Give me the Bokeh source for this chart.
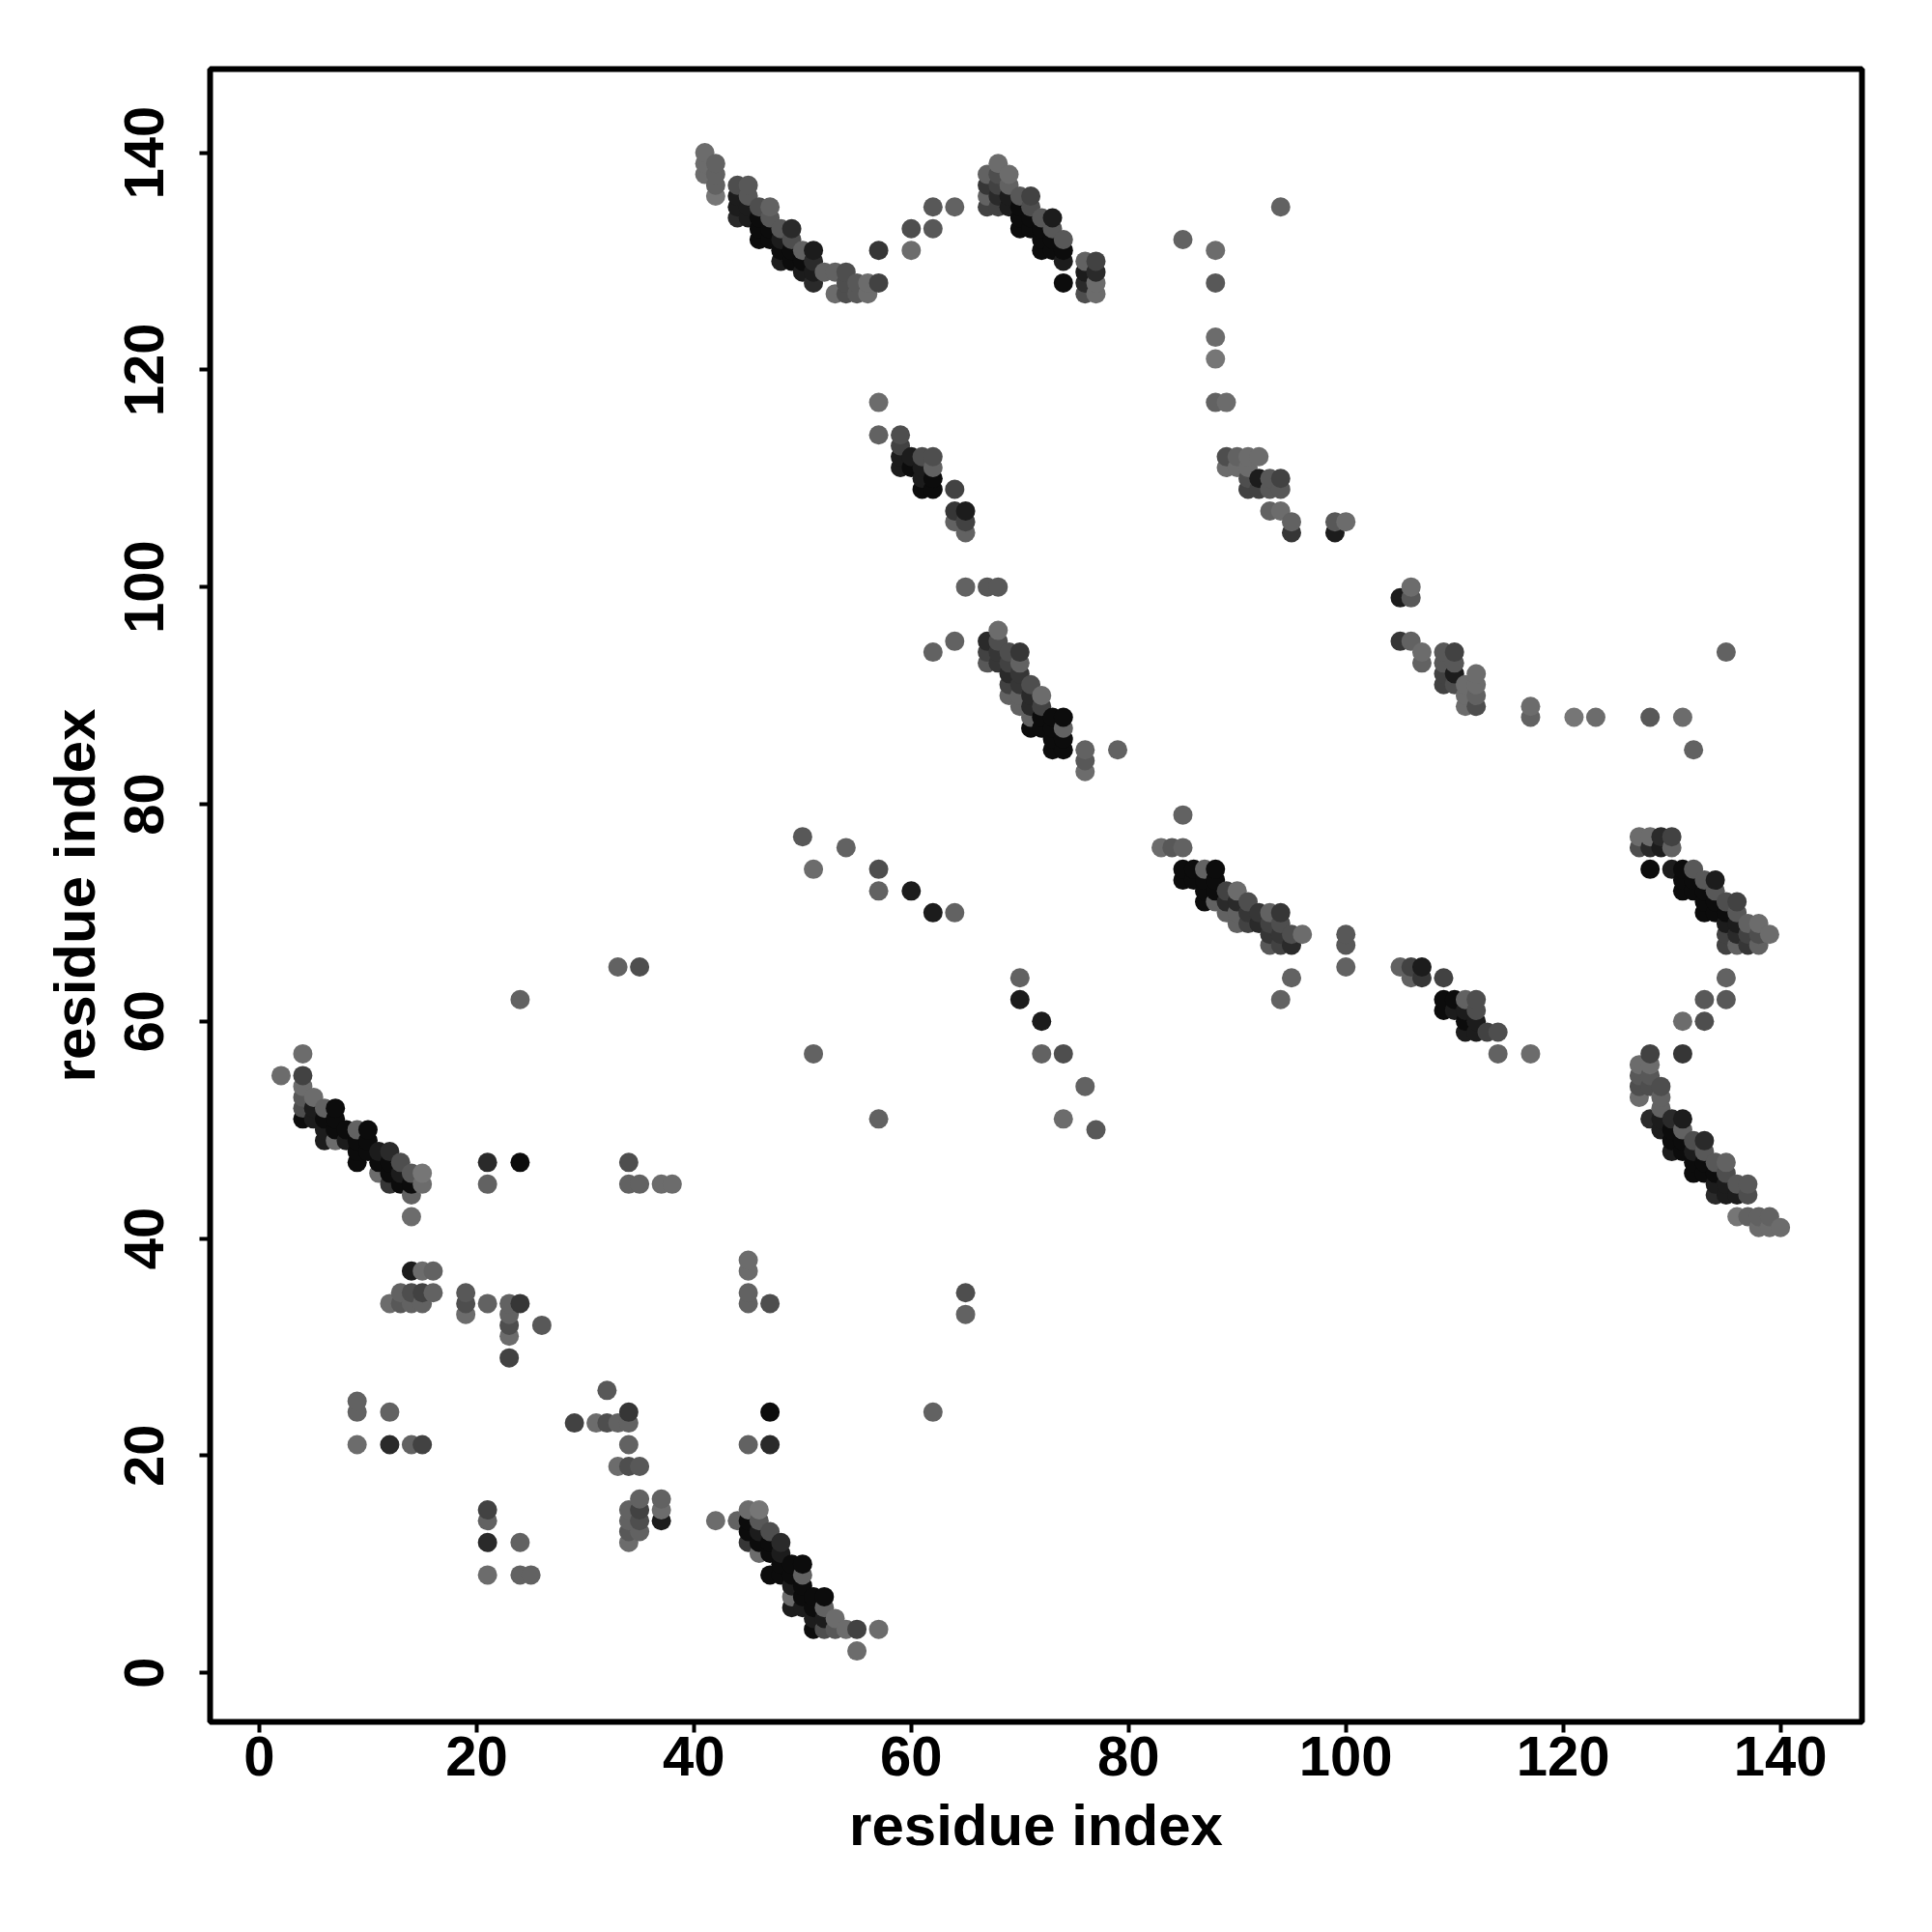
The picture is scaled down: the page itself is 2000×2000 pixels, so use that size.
from bokeh.plotting import figure
from bokeh.models import ColumnDataSource, LinearColorMapper, Range1d, FixedTicker
from bokeh.transform import transform
from bokeh.embed import file_html
from bokeh.resources import INLINE
import pandas as pd

# Contact map: (residue i, residue j, score 1..10). The map is symmetric, i < j here.
cluster_a = [(2,55,2),(4,57,2),(4,55,6),(4,54,2),(4,53,4),(4,52,5),(4,51,10),(5,53,2),(5,52,9),(5,51,9),
 (6,52,3),(6,51,10),(6,50,9),(6,49,9),(7,52,10),(7,51,10),(7,50,10),(7,49,2),(8,50,10),(8,49,9),
 (9,50,3),(9,49,10),(9,48,10),(9,47,10),(10,50,10),(10,49,10),(10,48,10),(11,48,9),(11,47,10),(11,46,2),
 (12,48,8),(12,47,10),(12,46,10),(12,45,7),(13,47,5),(13,46,9),(13,45,10),(14,46,4),(14,45,10),(14,44,3),
 (14,42,2),(15,46,1),(15,45,2)]
cluster_c = [(41,140,2),(41,139,2),(41,138,2),(42,139,3),(42,138,3),(42,137,3),(42,136,1),
 (44,137,5),(44,136,9),(44,135,9),(44,134,8),(45,137,4),(45,136,4),(45,135,9),(45,134,9),
 (46,135,5),(46,134,10),(46,133,10),(46,132,10),(47,135,3),(47,134,4),(47,133,10),(47,132,10),
 (48,133,4),(48,132,9),(48,131,10),(48,130,9),(49,133,8),(49,132,5),(49,131,10),(49,130,10),
 (50,131,3),(50,130,10),(50,129,9),(51,131,9),(51,130,8),(51,129,9),(51,128,8),
 (52,129,3),(53,129,3),(53,127,2),(54,129,5),(54,128,5),(54,127,5),(55,128,4),(55,127,4),
 (56,128,2),(56,127,2),(57,131,7),(57,128,6)]
cluster_d = [(67,138,3),(67,137,7),(67,136,3),(67,135,6),(68,139,2),(68,138,5),(68,137,6),(68,136,8),(68,135,6),
 (69,138,2),(69,137,3),(69,136,9),(69,135,9),(70,136,4),(70,135,10),(70,134,10),(70,133,10),
 (71,136,6),(71,135,5),(71,134,10),(71,133,10),(72,134,4),(72,133,10),(72,132,10),(72,131,10),
 (73,134,9),(73,133,4),(73,132,10),(73,131,10),(74,132,4),(74,131,10),(74,130,9),(74,128,10),
 (76,130,3),(76,129,9),(76,128,8),(76,127,5),(77,130,6),(77,129,8),(77,128,2),(77,127,2)]
cluster_e = [(67,95,8),(68,96,2),(68,95,5),(67,94,6),(67,93,4),(68,94,7),(68,93,7),(69,94,5),(69,93,6),
 (69,92,8),(69,91,6),(69,90,3),(70,94,7),(70,93,3),(70,92,7),(70,91,7),(70,90,3),(70,89,3),
 (71,91,5),(71,90,8),(71,89,8),(71,88,3),(71,87,10),(72,90,2),(72,89,6),(72,88,10),(72,87,10),
 (73,88,10),(73,87,10),(73,86,10),(73,85,10),(74,88,10),(74,87,3),(74,86,10),(74,85,10),
 (76,85,3),(76,84,4),(76,83,2),(79,85,3)]
cluster_f = [(57,117,2),(57,114,3),(59,114,5),(59,113,6),(59,112,9),(59,111,9),(60,112,9),(60,111,10),
 (61,112,5),(61,111,9),(61,110,9),(61,109,10),(62,112,5),(62,111,3),(62,110,10),(62,109,10),
 (64,109,6),(64,107,7),(64,106,3),(65,107,9),(65,106,6),(65,105,3)]
cluster_g = [(89,112,5),(89,111,2),(90,112,3),(90,111,2),(91,112,2),(91,111,2),(91,110,5),(91,109,6),
 (92,112,2),(92,110,9),(92,109,6),(93,110,4),(93,109,4),(94,110,6),(94,109,4),(93,107,3),(94,107,2),
 (95,106,3),(95,105,7),(99,106,4),(100,106,2),(99,105,9)]
sparse_low = [(14,37,9),(15,37,2),(16,37,3),(13,35,3),(14,35,5),(15,35,6),(16,35,3),(12,34,2),(13,34,4),
 (14,34,3),(15,34,3),(19,35,4),(19,34,5),(19,33,2),(21,34,3),(23,34,3),(24,34,7),(23,33,3),(23,32,5),
 (23,31,2),(26,32,4),(23,29,6),(9,25,3),(9,24,3),(9,21,2),(12,24,3),(12,21,8),(14,21,3),(15,21,6),
 (21,47,8),(21,45,3),(24,47,10),(34,47,5),(34,45,3),(35,45,3),(37,45,2),(38,45,2),
 (21,15,6),(21,14,4),(21,12,8),(24,12,3),(21,9,3),(24,9,3),(25,9,5),(34,24,7),(34,23,4),(33,23,3),
 (32,23,5),(31,23,2),(29,23,6),(32,26,3),(34,21,3),(33,19,2),(34,19,5),(35,19,3),
 (34,15,3),(34,14,3),(34,13,4),(35,16,3),(35,15,6),(35,14,6),(37,16,3),(37,15,2),(37,14,9),
 (45,38,2),(45,37,2),(45,35,4),(45,34,4),(47,34,4),(47,24,10),(45,21,2),(47,21,8)]
sparse_low = [(min(a, b), max(a, b), s) for a, b, s in sparse_low]
sparse_mid = [(24,62,3),(33,65,3),(35,65,5),(50,77,4),(51,74,2),(54,76,3),(57,74,5),(57,72,3),(60,72,9),
 (62,70,9),(64,70,3),(51,57,3),(62,94,3),(64,95,3),(65,100,3),(67,100,4),(68,100,4),
 (76,83,2),(76,84,4),(76,85,2)]
sparse_high = [(60,133,5),(60,131,2),(62,135,4),(62,133,4),(64,135,3),(85,132,3),(88,131,2),(88,128,4),
 (88,123,2),(88,121,1),(88,117,3),(89,117,2),(94,135,3),(79,85,2)]
tick_values = [0, 20, 40, 60, 80, 100, 120, 140]

contacts = pd.DataFrame(cluster_a + cluster_c + cluster_d + cluster_e + cluster_f + cluster_g +
                        sparse_low + sparse_mid + sparse_high, columns=["i", "j", "score"])
mirror = contacts.rename(columns={"i": "j", "j": "i"})
full = pd.concat([contacts, mirror]).drop_duplicates(["i", "j"]).sort_values(["i", "j"])

gray_levels = [118, 108, 98, 88, 78, 66, 54, 42, 28, 12]
palette = ["#%02x%02x%02x" % (g, g, g) for g in gray_levels]
mapper = LinearColorMapper(palette=palette, low=0.5, high=10.5)

p = figure(width=1984, height=1990, output_backend="svg", toolbar_location=None,
           x_range=Range1d(-4.53, 147.5), y_range=Range1d(-4.53, 147.7),
           x_axis_label="residue index", y_axis_label="residue index",
           min_border_left=217, min_border_top=71, min_border_right=57, min_border_bottom=208,
           background_fill_color="white", border_fill_color="white")
p.frame_width = 1710
p.frame_height = 1711
p.grid.visible = False
p.outline_line_color = "black"
p.outline_line_width = 6
p.outline_line_alpha = 1

p.scatter("i", "j", source=ColumnDataSource(full), size=20, marker="circle",
          fill_color=transform("score", mapper), line_color=None)

for ax in (p.xaxis[0], p.yaxis[0]):
    ax.ticker = FixedTicker(ticks=tick_values)
    ax.axis_line_color = None
    ax.minor_tick_line_color = None
    ax.major_tick_line_color = "black"
    ax.major_tick_line_width = 4
    ax.major_tick_out = 11
    ax.major_tick_in = 0
    ax.major_label_text_font = "Liberation Sans"
    ax.major_label_text_font_style = "bold"
    ax.major_label_text_font_size = "58px"
    ax.major_label_text_color = "black"
    ax.axis_label_text_font = "Liberation Sans"
    ax.axis_label_text_font_style = "bold"
    ax.axis_label_text_font_size = "60px"
    ax.axis_label_text_color = "black"
p.yaxis[0].major_label_orientation = "vertical"
p.xaxis[0].major_label_standoff = 4
p.yaxis[0].major_label_standoff = 37
p.xaxis[0].axis_label_standoff = 15
p.yaxis[0].axis_label_standoff = 16

open("out.html", "w").write(file_html(p, INLINE))
